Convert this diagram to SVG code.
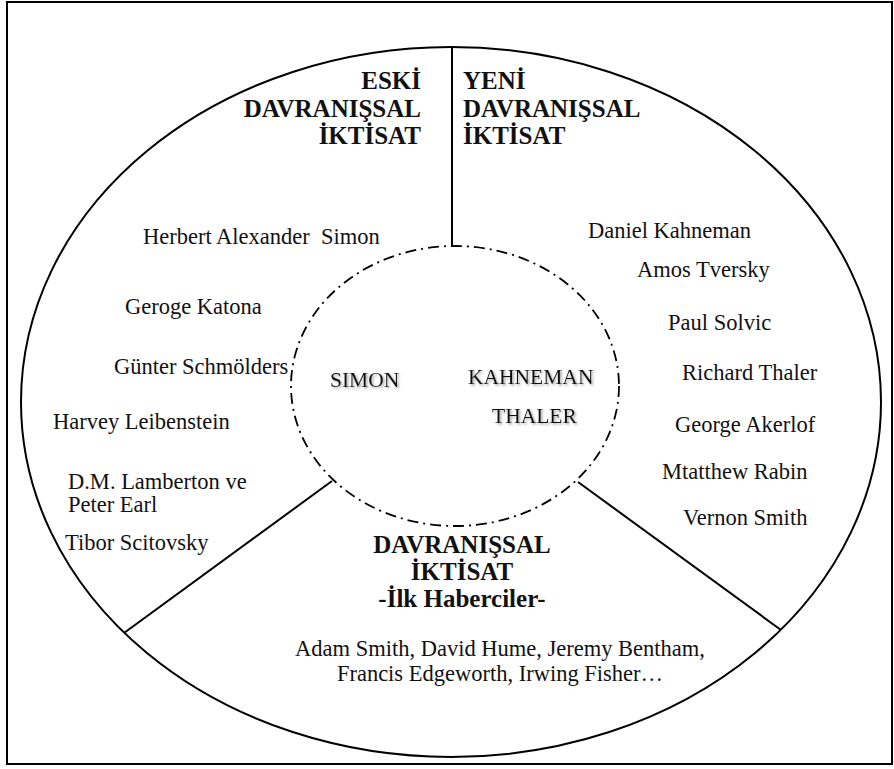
<svg xmlns="http://www.w3.org/2000/svg" width="894" height="769" viewBox="0 0 894 769">
<style>
.ln{fill:none;stroke:#000;stroke-width:2}
.dd{fill:none;stroke:#000;stroke-width:1.8;stroke-dasharray:11 5 2 5}
.h{font-family:"Liberation Serif","Times New Roman",serif;font-weight:bold;font-size:25px;fill:#111}
.n{font-family:"Liberation Serif","Times New Roman",serif;font-size:22.5px;fill:#111}
.c{font-family:"Liberation Serif","Times New Roman",serif;font-size:21.5px;fill:#111;filter:url(#sh)}
</style>
<defs>
<filter id="sh" x="-10%" y="-30%" width="130%" height="170%">
<feDropShadow dx="1.5" dy="1.5" stdDeviation="1" flood-color="#888" flood-opacity="0.8"/>
</filter>
</defs>
<rect x="0" y="0" width="894" height="769" fill="#fff"/>
<rect x="7" y="2" width="885" height="762" class="ln"/>
<g id="connectors">
<ellipse cx="451" cy="402" rx="430" ry="355" class="ln"/>
<line x1="452" y1="47" x2="452" y2="246" class="ln"/>
<line x1="332" y1="481" x2="124" y2="633" class="ln"/>
<line x1="578" y1="482" x2="781" y2="630" class="ln"/>
</g>
<g id="inner">
<ellipse cx="455" cy="386" rx="164" ry="140" class="dd"/>
<text class="c" x="330" y="387">SIMON</text>
<text class="c" x="468" y="384">KAHNEMAN</text>
<text class="c" x="492" y="423">THALER</text>
</g>
<g id="eski">
<text class="h" text-anchor="end" x="421" y="89">ESKİ</text>
<text class="h" text-anchor="end" x="421" y="116.5">DAVRANIŞSAL</text>
<text class="h" text-anchor="end" x="421" y="144">İKTİSAT</text>
<text class="n" x="143" y="244">Herbert Alexander&#160; Simon</text>
<text class="n" x="125" y="314">Geroge Katona</text>
<text class="n" x="114" y="374">Günter Schmölders</text>
<text class="n" x="53" y="429">Harvey Leibenstein</text>
<text class="n" x="68" y="489">D.M. Lamberton ve</text>
<text class="n" x="68" y="512">Peter Earl</text>
<text class="n" x="65" y="550">Tibor Scitovsky</text>
</g>
<g id="yeni">
<text class="h" x="463" y="89">YENİ</text>
<text class="h" x="463" y="116.5">DAVRANIŞSAL</text>
<text class="h" x="463" y="144">İKTİSAT</text>
<text class="n" x="588" y="238">Daniel Kahneman</text>
<text class="n" x="637" y="277">Amos Tversky</text>
<text class="n" x="668" y="330">Paul Solvic</text>
<text class="n" x="682" y="380">Richard Thaler</text>
<text class="n" x="675" y="432">George Akerlof</text>
<text class="n" x="662" y="479">Mtatthew Rabin</text>
<text class="n" x="683" y="525">Vernon Smith</text>
</g>
<g id="ilk">
<text class="h" text-anchor="middle" x="462" y="553">DAVRANIŞSAL</text>
<text class="h" text-anchor="middle" x="462" y="580">İKTİSAT</text>
<text class="h" text-anchor="middle" x="462" y="607">-İlk Haberciler-</text>
<text class="n" text-anchor="middle" x="500" y="656">Adam Smith, David Hume, Jeremy Bentham,</text>
<text class="n" text-anchor="middle" x="500" y="681">Francis Edgeworth, Irwing Fisher…</text>
</g>
</svg>
